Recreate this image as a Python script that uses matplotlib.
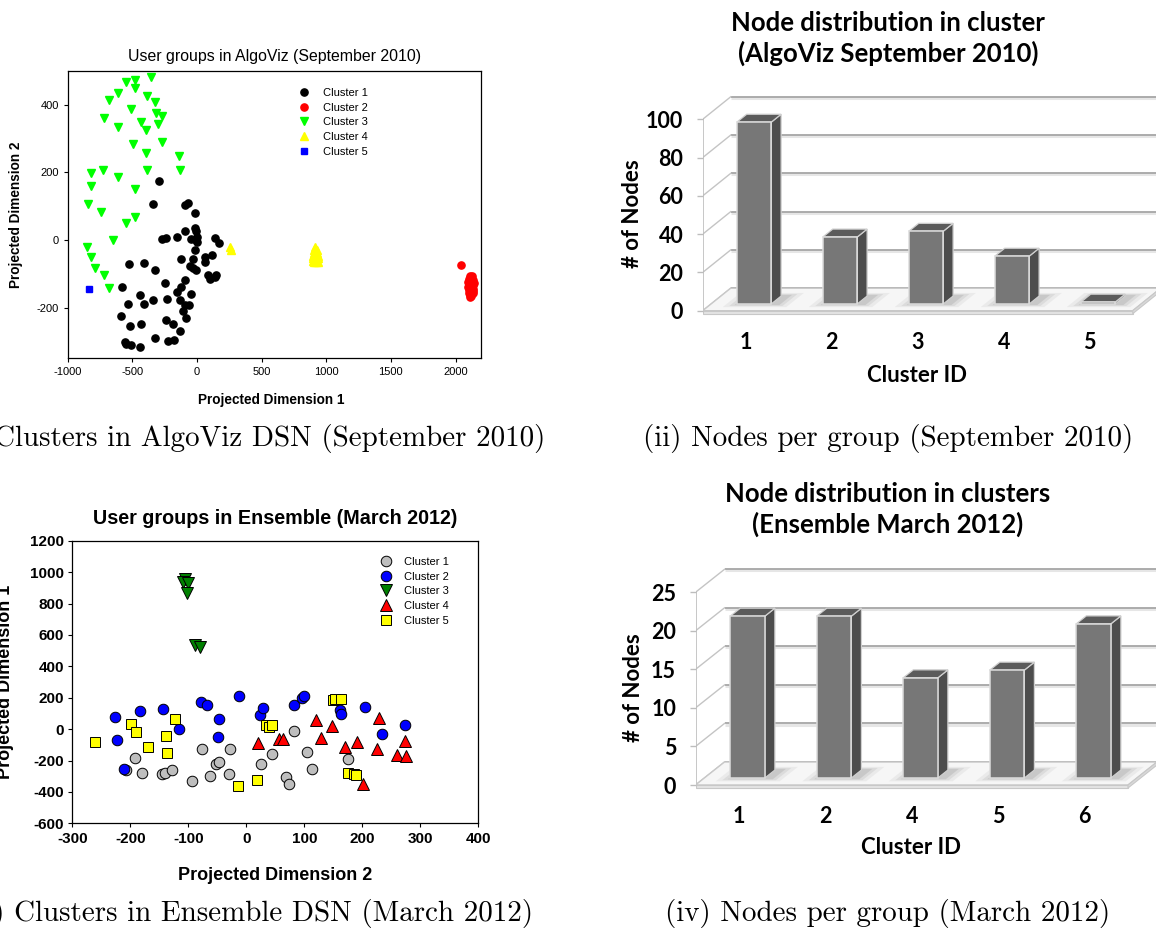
import matplotlib
matplotlib.use("Agg")
import matplotlib.pyplot as plt
from matplotlib.patches import Polygon
import numpy as np

plt.rcParams['font.family'] = ['Liberation Sans', 'DejaVu Sans']
plt.rcParams['axes.unicode_minus'] = False

# ---------------- data: (i) AlgoViz, September 2010 ----------------
algo_c1_x = [-294, -340, -90, -70, -18, -18, -5, 0, -5, 0, -44, -95, -155, -237, -268, 137, 168, -18,
             -121, -26, -52, -31, -5, 64, 64, 116, 90, 103, 149, 137, -95, -126, -152, -229, -245, -322,
             -410, -526, -577, -443, -533, -405, -340, -129, -95, -62, -49, -108, -82, -590, -515, -428,
             -237, -186, -134, -322, -224, -173, -554, -546, -508, -443]
algo_c1_y = [175, 106, 103, 108, 79, 34, 25, 10, 0, -5, 2, 25, 10, 5, 2, 5, -10, -29, -57, -56, -77, -84,
             -88, -51, -64, -44, -103, -116, -105, -110, -118, -138, -154, -174, -126, -88, -67, -72, -140,
             -162, -190, -190, -177, -177, -192, -192, -160, -209, -231, -226, -253, -248, -238, -249, -270,
             -290, -300, -297, -302, -308, -310, -315]
algo_c2_x = [2046, 2112, 2128, 2104, 2120, 2136, 2100, 2114, 2130, 2140, 2104, 2118, 2134, 2100, 2114,
             2130, 2138, 2104, 2120, 2134, 2106, 2122, 2132, 2108, 2122, 2114, 2126, 2110, 2124, 2108,
             2128, 2116, 2130, 2112, 2118]
algo_c2_y = [-74, -107, -108, -115, -116, -117, -124, -124, -125, -126, -132, -133, -134, -140, -141,
             -141, -146, -148, -149, -150, -156, -157, -158, -163, -165, -169, -120, -128, -138, -152,
             -145, -160, -131, -112, -153]
algo_c3_x = [-353, -546, -482, -611, -482, -384, -327, -683, -508, -314, -271, -714, -430, -301, -606,
             -392, -495, -268, -392, -139, -820, -727, -606, -384, -134, -817, -482, -838, -740, -482,
             -546, -649, -848, -817, -786, -719, -680]
algo_c3_y = [482, 467, 474, 433, 448, 425, 408, 413, 388, 374, 366, 361, 349, 344, 334, 326, 283, 290,
             256, 248, 199, 208, 187, 206, 206, 160, 150, 106, 82, 69, 51, 0, -22, -51, -84, -103, -143]
algo_c4_x = [253, 266, 917, 908, 926, 902, 917, 932, 898, 912, 926, 938, 898, 912, 928, 940, 900, 915,
             930, 908, 922, 936, 905, 920, 918]
algo_c4_y = [-20, -29, -22, -30, -30, -38, -38, -38, -46, -46, -46, -46, -54, -54, -54, -54, -62, -62,
             -62, -66, -66, -64, -58, -50, -42]
algo_c5_x = [-835]
algo_c5_y = [-145]

# ---------------- data: (ii) nodes per group, September 2010 ----------------
sep_cluster_ids = ['1', '2', '3', '4', '5']
sep_nodes = [95, 35, 38, 25, 1]

# ---------------- data: (iii) Ensemble, March 2012 ----------------
ens_c1_x = [-207, -192, -179, -145, -141, -128, -94, -76, -63, -52, -47, -30, -28, 25, 44, 69, 74, 83,
            105, 113, 175]
ens_c1_y = [-263, -185, -280, -287, -280, -263, -329, -125, -301, -221, -212, -287, -129, -223, -159,
            -308, -350, -15, -149, -255, -191]
ens_c2_x = [-227, -223, -211, -184, -143, -116, -78, -68, -47, -49, -13, 23, 29, 82, 96, 99, 161, 164,
            205, 234, 274]
ens_c2_y = [79, -68, -253, 115, 127, 2, 170, 151, 66, -51, 214, 87, 134, 155, 197, 212, 123, 96, 142,
            -34, 28]
ens_c3_x = [-106, -109, -101, -103, -88, -80]
ens_c3_y = [957, 934, 930, 870, 533, 522]
ens_c4_x = [21, 56, 64, 121, 129, 147, 170, 191, 202, 226, 228, 259, 274, 276]
ens_c4_y = [-89, -64, -64, 59, -57, 17, -115, -83, -350, -125, 68, -166, -74, -174]
ens_c5_x = [-261, -198, -191, -169, -139, -137, -123, -15, 19, 34, 39, 44, 149, 153, 163, 175, 185, 190]
ens_c5_y = [-81, 32, -19, -115, -47, -151, 66, -361, -327, 23, 11, 23, 185, 193, 191, -280, -287, -293]

# ---------------- data: (iv) nodes per group, March 2012 ----------------
mar_cluster_ids = ['1', '2', '4', '5', '6']
mar_nodes = [21, 21, 13, 14, 20]

cluster_names = ['Cluster 1', 'Cluster 2', 'Cluster 3', 'Cluster 4', 'Cluster 5']

# ---------------- figure helpers ----------------
W, H = 1156, 931
fig = plt.figure(figsize=(W / 100, H / 100), dpi=100)


def fx(px):
    return px / W


def fy(py):
    return 1 - py / H


def add_axes_px(left, top, right, bottom):
    return fig.add_axes([left / W, 1 - bottom / H, (right - left) / W, (bottom - top) / H])


def place_labels(ax, xl_px, yl_px):
    ax.xaxis.label.set_verticalalignment('center')
    ax.yaxis.label.set_verticalalignment('center')
    ax.xaxis.set_label_coords(fx(xl_px[0]), fy(xl_px[1]), transform=fig.transFigure)
    ax.yaxis.set_label_coords(fx(yl_px[0]), fy(yl_px[1]), transform=fig.transFigure)


# ================= (i) scatter AlgoViz =================
ax1 = add_axes_px(67.5, 70.7, 481.4, 358.4)
ax1.plot(algo_c1_x, algo_c1_y, ls='none', marker='o', ms=5.2, color='black', mec='black', label=cluster_names[0])
ax1.plot(algo_c2_x, algo_c2_y, ls='none', marker='o', ms=5.2, color='#ff0000', mec='#ff0000', label=cluster_names[1])
ax1.plot(algo_c3_x, algo_c3_y, ls='none', marker='v', ms=5.8, color='#00ff00', mec='#00ff00', label=cluster_names[2])
ax1.plot(algo_c4_x, algo_c4_y, ls='none', marker='^', ms=5.8, color='#ffff00', mec='#ffff00', label=cluster_names[3])
ax1.plot(algo_c5_x, algo_c5_y, ls='none', marker='s', ms=4.8, color='#0000ff', mec='#0000ff', label=cluster_names[4])
ax1.set_xlim(-1000, 2200)
ax1.set_ylim(-350, 500)
ax1.set_xticks([-1000, -500, 0, 500, 1000, 1500, 2000])
ax1.set_yticks([-200, 0, 200, 400])
ax1.tick_params(direction='out', length=3, width=0.8, labelsize=8, pad=3)
for s in ax1.spines.values():
    s.set_linewidth(0.9)
ax1.set_title('User groups in AlgoViz (September 2010)', fontsize=11.4, pad=0,
              y=(358.4 - 56.7) / (358.4 - 70.7), va='center')
ax1.set_xlabel('Projected Dimension 1', fontsize=9.8, fontweight='bold')
ax1.set_ylabel('Projected Dimension 2', fontsize=9.8, fontweight='bold')
place_labels(ax1, (271, 400), (16, 215))
ax1.legend(loc='upper left', bbox_to_anchor=(fx(298.5), fy(88)), bbox_transform=fig.transFigure,
           frameon=False, fontsize=8, handlelength=1.0, handletextpad=1.2, labelspacing=0.42,
           borderpad=0, borderaxespad=0, numpoints=1)

# ================= (iii) scatter Ensemble =================
ax3 = add_axes_px(72.3, 540.7, 478.3, 823.3)
ek = dict(ls='none', mec='black', mew=0.7)
ax3.plot(ens_c1_x, ens_c1_y, marker='o', ms=7.6, color='#bebebe', label=cluster_names[0], **ek)
ax3.plot(ens_c2_x, ens_c2_y, marker='o', ms=7.6, color='#0000ff', label=cluster_names[1], **ek)
ax3.plot(ens_c3_x, ens_c3_y, marker='v', ms=8.0, color='#008000', label=cluster_names[2], **ek)
ax3.plot(ens_c4_x, ens_c4_y, marker='^', ms=8.0, color='#ff0000', label=cluster_names[3], **ek)
ax3.plot(ens_c5_x, ens_c5_y, marker='s', ms=7.0, color='#ffff00', label=cluster_names[4], **ek)
ax3.set_xlim(-300, 400)
ax3.set_ylim(-600, 1200)
ax3.set_xticks(range(-300, 401, 100))
ax3.set_yticks(range(-600, 1201, 200))
ax3.tick_params(direction='out', length=3, width=0.8, labelsize=11, pad=3)
for lbl in ax3.get_xticklabels() + ax3.get_yticklabels():
    lbl.set_fontweight('bold')
for s in ax3.spines.values():
    s.set_linewidth(0.9)
ax3.set_title('User groups in Ensemble (March 2012)', fontsize=14.2, fontweight='bold', pad=0,
              y=(823.3 - 518.5) / (823.3 - 540.7), va='center')
ax3.set_xlabel('Projected Dimension 2', fontsize=13, fontweight='bold')
ax3.set_ylabel('Projected Dimension 1', fontsize=13, fontweight='bold')
place_labels(ax3, (275, 875), (6, 682))
ax3.legend(loc='upper left', bbox_to_anchor=(fx(380), fy(557)), bbox_transform=fig.transFigure,
           frameon=False, fontsize=8, handlelength=1.0, handletextpad=1.2, labelspacing=0.42,
           borderpad=0, borderaxespad=0, numpoints=1)


# ================= 3-D looking bar charts =================
def bar3d(ax, labels, vals, yticks, dx, dy, slab_t, z0=0.3, z1=0.65, w=0.4):
    n = len(labels)
    xs = np.arange(1, n + 1)
    x_right = ax.get_xlim()[1]
    L, R = 0.5, n + 0.5
    ytop = yticks[-1]
    # back wall gridlines + left wall diagonals
    for v in yticks:
        ax.plot([L + dx, x_right], [v + dy - slab_t * 0.35, v + dy - slab_t * 0.35], color='#e6e6e6',
                lw=2.2, solid_capstyle='butt', zorder=1)
        ax.plot([L + dx, x_right], [v + dy, v + dy], color='#a6a6a6', lw=1.3,
                solid_capstyle='butt', zorder=1.1)
        ax.plot([L, L + dx], [v, v + dy], color='#c4c4c4', lw=1.0, zorder=1.1)
    # floor (top surface + front slab)
    ax.add_patch(Polygon([(L, 0), (R, 0), (R + dx, dy), (L + dx, dy)], closed=True,
                         fc='#f6f6f6', ec='#c8c8c8', lw=1.0, zorder=1.5))
    ax.add_patch(Polygon([(L, 0), (R, 0), (R, -slab_t), (L, -slab_t)], closed=True,
                         fc='#e4e4e4', ec='#c8c8c8', lw=0.8, zorder=1.5))
    ax.add_patch(Polygon([(R, 0), (R + dx, dy), (R + dx, dy - slab_t), (R, -slab_t)], closed=True,
                         fc='#d9d9d9', ec='#c8c8c8', lw=0.8, zorder=1.5))
    # front axis line
    ax.plot([L, L], [0, ytop], color='#bdbdbd', lw=1.2, zorder=1.2)
    # soft shadows on the floor
    for xc in xs:
        xl, xr = xc - w / 2, xc + w / 2
        for ex, ez, a in [(0.16, 0.14, 0.07), (0.10, 0.09, 0.10), (0.05, 0.05, 0.14)]:
            za, zb = max(z0 - ez, 0.02), min(z1 + ez, 0.98)
            xa, xb = xl - ex + 0.04, xr + ex + 0.06
            ax.add_patch(Polygon([(xa + za * dx, za * dy), (xb + za * dx, za * dy),
                                  (xb + zb * dx, zb * dy), (xa + zb * dx, zb * dy)], closed=True,
                                 fc='#5a5a5a', ec='none', alpha=a, zorder=1.6))
    # bars: front faces through the library, side and top faces as polygons
    ax.bar(xs + z0 * dx, vals, width=w, bottom=z0 * dy, color='#777777', edgecolor='#dcdcdc',
           linewidth=1.1, zorder=3)
    for xc, v in zip(xs, vals):
        xl, xr = xc - w / 2, xc + w / 2
        ax.add_patch(Polygon([(xr + z0 * dx, z0 * dy), (xr + z1 * dx, z1 * dy),
                              (xr + z1 * dx, v + z1 * dy), (xr + z0 * dx, v + z0 * dy)], closed=True,
                             fc='#4d4d4d', ec='#d0d0d0', lw=0.9, zorder=2.9))
        ax.add_patch(Polygon([(xl + z0 * dx, v + z0 * dy), (xr + z0 * dx, v + z0 * dy),
                              (xr + z1 * dx, v + z1 * dy), (xl + z1 * dx, v + z1 * dy)], closed=True,
                             fc='#5b5b5b', ec='#d0d0d0', lw=0.9, zorder=2.9))
    ax.set_xticks(xs, labels)
    ax.set_yticks(yticks)
    for s in ax.spines.values():
        s.set_visible(False)
    ax.tick_params(axis='y', direction='out', length=4, width=1, color='#bdbdbd', pad=10, labelsize=15.5)
    ax.tick_params(axis='x', length=0, pad=4, labelsize=15.5)
    for lbl in ax.get_xticklabels() + ax.get_yticklabels():
        lbl.set_fontweight('bold')
        lbl.set_fontfamily('Lato')
    ax.patch.set_visible(False)


bar_font = dict(family='Lato', fontweight='bold')

# (ii) panel: x=0.5 at 702.7 px, 86 px/unit; y=0 at 310.7 px, 1.914 px/unit
sx2, sy2 = 86.0, 1.914
xlim2 = (0.5, 0.5 + (W - 702.7) / sx2)
ylim2 = (-8, 128)
ax2 = add_axes_px(702.7, 310.7 - ylim2[1] * sy2, W, 310.7 - ylim2[0] * sy2)
ax2.set_xlim(*xlim2)
ax2.set_ylim(*ylim2)
bar3d(ax2, sep_cluster_ids, sep_nodes, list(range(0, 101, 20)), dx=28 / sx2, dy=22.5 / sy2,
      slab_t=3 / sy2)
ax2.set_xlabel('Cluster ID', fontsize=16, **bar_font)
ax2.set_ylabel('# of Nodes', fontsize=16, **bar_font)
place_labels(ax2, (917, 375), (632, 214))
fig.text(fx(888), fy(38.5), 'Node distribution in cluster\n(AlgoViz September 2010)', ha='center',
         va='center', fontsize=18.5, linespacing=1.3, **bar_font)

# (iv) panel: x=0.5 at 695.5 px, 86.5 px/unit; y=0 at 785 px, 7.708 px/unit
sx4, sy4 = 86.5, 7.708
xlim4 = (0.5, 0.5 + (W - 695.5) / sx4)
ylim4 = (-2, 32)
ax4 = add_axes_px(695.5, 785 - ylim4[1] * sy4, W, 785 - ylim4[0] * sy4)
ax4.set_xlim(*xlim4)
ax4.set_ylim(*ylim4)
bar3d(ax4, mar_cluster_ids, mar_nodes, list(range(0, 26, 5)), dx=29 / sx4, dy=23 / sy4,
      slab_t=3 / sy4)
ax4.set_xlabel('Cluster ID', fontsize=16, **bar_font)
ax4.set_ylabel('# of Nodes', fontsize=16, **bar_font)
place_labels(ax4, (911, 848), (633, 688))
fig.text(fx(888), fy(509.5), 'Node distribution in clusters\n(Ensemble March 2012)', ha='center',
         va='center', fontsize=18.5, linespacing=1.3, **bar_font)

# ================= sub-figure captions =================
cap = dict(family='cmr10', fontsize=20.9, va='center')
fig.text(fx(545), fy(438), '(i) Clusters in AlgoViz DSN (September 2010)', ha='right', **cap)
fig.text(fx(643), fy(438), '(ii) Nodes per group (September 2010)', ha='left', **cap)
fig.text(fx(533), fy(913), '(iii) Clusters in Ensemble DSN (March 2012)', ha='right', **cap)
fig.text(fx(665), fy(913), '(iv) Nodes per group (March 2012)', ha='left', **cap)

fig.savefig('out.png', dpi=100)
